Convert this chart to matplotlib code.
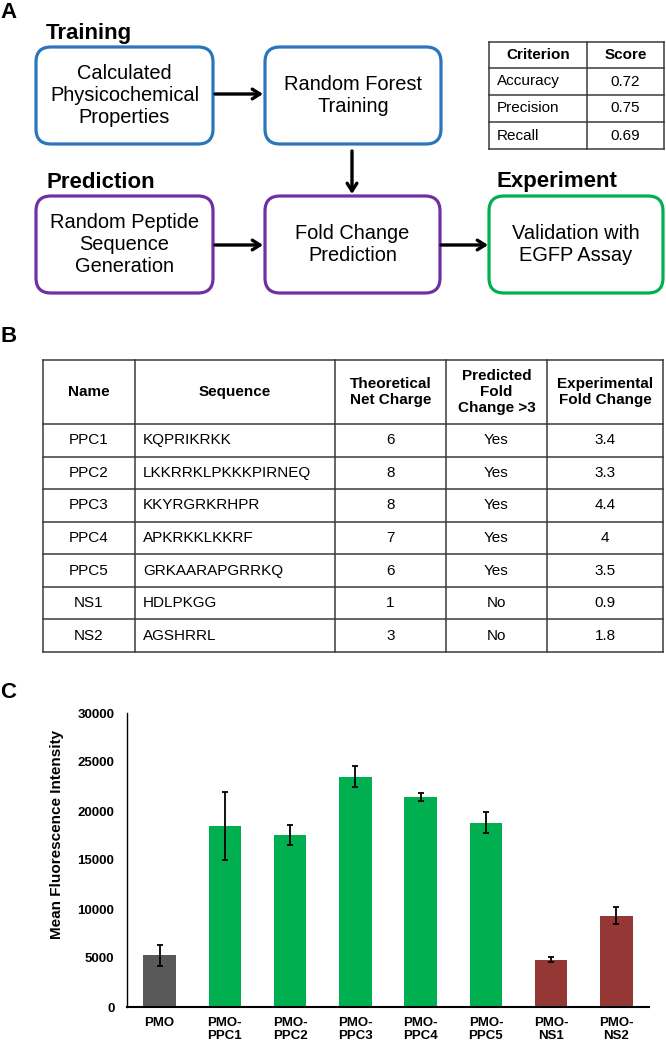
import matplotlib
matplotlib.use('Agg')
import matplotlib.pyplot as plt
from matplotlib.patches import FancyBboxPatch

plt.rcParams['font.family'] = ['Liberation Sans', 'DejaVu Sans']

# ---- data ----
# panel A: model scores
criteria = ['Accuracy', 'Precision', 'Recall']
scores = ['0.72', '0.75', '0.69']

# panel B: peptide table
headers = ['Name', 'Sequence', 'Theoretical\nNet Charge',
           'Predicted\nFold\nChange >3', 'Experimental\nFold Change']
names = ['PPC1', 'PPC2', 'PPC3', 'PPC4', 'PPC5', 'NS1', 'NS2']
sequences = ['KQPRIKRKK', 'LKKRRKLPKKKPIRNEQ', 'KKYRGRKRHPR', 'APKRKKLKKRF',
             'GRKAARAPGRRKQ', 'HDLPKGG', 'AGSHRRL']
net_charge = [6, 8, 8, 7, 6, 1, 3]
predicted = ['Yes', 'Yes', 'Yes', 'Yes', 'Yes', 'No', 'No']
fold_change = ['3.4', '3.3', '4.4', '4', '3.5', '0.9', '1.8']

# panel C: EGFP assay
samples = ['PMO', 'PMO-\nPPC1', 'PMO-\nPPC2', 'PMO-\nPPC3', 'PMO-\nPPC4',
           'PMO-\nPPC5', 'PMO-\nNS1', 'PMO-\nNS2']
mfi = [5270, 18470, 17550, 23500, 21430, 18810, 4830, 9320]
mfi_err = [1090, 3490, 1020, 1070, 375, 1050, 270, 850]
bar_colors = ['#595959', '#00B050', '#00B050', '#00B050', '#00B050',
              '#00B050', '#953735', '#953735']

W, H = 666, 1044
fig = plt.figure(figsize=(W / 100, H / 100), dpi=100)

# overlay axes in pixel units for panels A and B
ax0 = fig.add_axes([0, 0, 1, 1])
ax0.set_xlim(0, W)
ax0.set_ylim(H, 0)
ax0.axis('off')

# panel letters
for letter, y in [('A', 13), ('B', 337), ('C', 693)]:
    ax0.text(0, y, letter, fontsize=16, fontweight='bold', ha='left', va='center')

# ---- panel A: workflow ----
blue, purple, green = '#2A76BD', '#7030A0', '#00B050'
boxes = [
    (36, 47, 177, 97, blue, 'Calculated\nPhysicochemical\nProperties'),
    (265, 47, 176, 97, blue, 'Random Forest\nTraining'),
    (36, 196, 177, 97, purple, 'Random Peptide\nSequence\nGeneration'),
    (265, 196, 175, 97, purple, 'Fold Change\nPrediction'),
    (489, 196, 174, 97, green, 'Validation with\nEGFP Assay'),
]
for x, y, w, h, col, label in boxes:
    ax0.add_patch(FancyBboxPatch((x, y), w, h,
                                 boxstyle='round,pad=0,rounding_size=15',
                                 fc='white', ec=col, lw=2.3))
    ax0.text(x + w / 2, y + h / 2, label, fontsize=14.4, ha='center',
             va='center', linespacing=1.22)

for txt, x, y in [('Training', 46, 33), ('Prediction', 46, 182),
                  ('Experiment', 496, 181)]:
    ax0.text(x, y, txt, fontsize=16, fontweight='bold', ha='left', va='center')

arrow_kw = dict(arrowstyle='->,head_length=0.55,head_width=0.35',
                color='black', lw=2.4, shrinkA=0, shrinkB=0)
for start, end in [((215, 94), (263, 94)), ((215, 245), (263, 245)),
                   ((441, 245), (488, 245)), ((352, 151), (352, 194))]:
    ax0.annotate('', xy=end, xytext=start, arrowprops=arrow_kw)

# metrics table
line_kw = dict(color='#3a3a3a', lw=1.1)
tx = [489, 587, 664]
ty = [42, 68, 95, 122, 149]
for yy in ty:
    ax0.plot([tx[0], tx[-1]], [yy, yy], **line_kw)
for xx in tx:
    ax0.plot([xx, xx], [ty[0], ty[-1]], **line_kw)
ax0.text((tx[0] + tx[1]) / 2, (ty[0] + ty[1]) / 2, 'Criterion', fontsize=11,
         fontweight='bold', ha='center', va='center')
ax0.text((tx[1] + tx[2]) / 2, (ty[0] + ty[1]) / 2, 'Score', fontsize=11,
         fontweight='bold', ha='center', va='center')
for i, (c, s) in enumerate(zip(criteria, scores)):
    yc = (ty[i + 1] + ty[i + 2]) / 2
    ax0.text(tx[0] + 8, yc, c, fontsize=11, ha='left', va='center')
    ax0.text((tx[1] + tx[2]) / 2, yc, s, fontsize=11, ha='center', va='center')

# ---- panel B: peptide table ----
cx = [43, 135, 335, 446, 547, 663]
top, head_bot, bot = 360, 424, 652
row_h = (bot - head_bot) / len(names)
ry = [top, head_bot] + [head_bot + row_h * (i + 1) for i in range(len(names))]
for yy in ry:
    ax0.plot([cx[0], cx[-1]], [yy, yy], **line_kw)
for xx in cx:
    ax0.plot([xx, xx], [top, bot], **line_kw)
for j, hd in enumerate(headers):
    ax0.text((cx[j] + cx[j + 1]) / 2, (top + head_bot) / 2, hd, fontsize=11,
             fontweight='bold', ha='center', va='center', linespacing=1.2)
for i in range(len(names)):
    yc = (ry[i + 1] + ry[i + 2]) / 2
    ax0.text((cx[0] + cx[1]) / 2, yc, names[i], fontsize=11, ha='center', va='center')
    ax0.text(cx[1] + 8, yc, sequences[i], fontsize=11, ha='left', va='center')
    ax0.text((cx[2] + cx[3]) / 2, yc, str(net_charge[i]), fontsize=11,
             ha='center', va='center')
    ax0.text((cx[3] + cx[4]) / 2, yc, predicted[i], fontsize=11, ha='center', va='center')
    ax0.text((cx[4] + cx[5]) / 2, yc, fold_change[i], fontsize=11,
             ha='center', va='center')

# ---- panel C: bar chart ----
ax = fig.add_axes([127 / W, (H - 1007) / H, 522 / W, 294 / H])
x = range(len(samples))
ax.bar(x, mfi, width=0.5, color=bar_colors, yerr=mfi_err, capsize=2.5,
       error_kw=dict(elinewidth=1.3, capthick=1.3, ecolor='black'))
ax.set_xlim(-0.5, len(samples) - 0.5)
ax.set_ylim(0, 30000)
ax.set_yticks(range(0, 30001, 5000))
ax.set_xticks(list(x))
ax.set_xticklabels(samples, fontsize=9.5, fontweight='bold', linespacing=1.1)
for lab in ax.get_yticklabels():
    lab.set_fontsize(9.5)
    lab.set_fontweight('bold')
ax.tick_params(axis='both', length=0)
ax.tick_params(axis='y', pad=9)
ax.tick_params(axis='x', pad=7)
ax.spines['top'].set_visible(False)
ax.spines['right'].set_visible(False)
ax.spines['left'].set_linewidth(1.0)
ax.spines['bottom'].set_linewidth(1.5)
ax.set_ylabel('Mean Fluorescence Intensity', fontsize=11, fontweight='bold',
              va='center')
ax.yaxis.set_label_coords(-0.134, 0.588)

fig.savefig('out.png', dpi=100)
